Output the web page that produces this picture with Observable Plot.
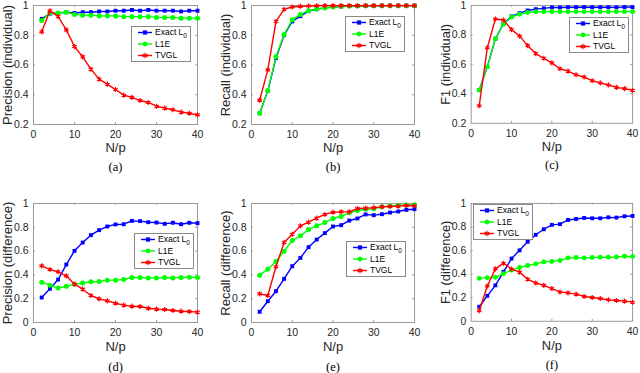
<!DOCTYPE html>
<html><head><meta charset="utf-8">
<script src="https://cdn.jsdelivr.net/npm/d3@7"></script>
<script src="https://cdn.jsdelivr.net/npm/@observablehq/plot@0.6"></script>
<style>
body{margin:0;background:#fff;}
#root{position:relative;width:640px;height:373px;overflow:hidden;background:#fff;}
.panel{position:absolute;}
.legend{position:absolute;}
</style></head><body><div id="root"></div>
<script>
// ---------- data ----------
const xs = [2,4,6,8,10,12,14,16,18,20,22,24,26,28,30,32,34,36,38,40];
const seriesNames = ["Exact L0","L1E","TVGL"];
const xTicks = [0,10,20,30,40];
const yTicksTop = [0.2,0.4,0.6,0.8,1];
const yTicksBottom = [0,0.2,0.4,0.6,0.8,1];
const xLabel = "N/p";
const yLabels = ["Precision (individual)","Recall (individual)","F1 (individual)","Precision (difference)","Recall (difference)","F1 (difference)"];
const captions = ["(a)","(b)","(c)","(d)","(e)","(f)"];

// (a) Precision (individual)
const aExact = [0.91,0.945,0.95,0.955,0.95,0.955,0.955,0.96,0.96,0.965,0.965,0.97,0.965,0.97,0.965,0.965,0.965,0.96,0.965,0.965];
const aL1E   = [0.90,0.95,0.95,0.955,0.94,0.935,0.935,0.93,0.93,0.93,0.925,0.925,0.925,0.925,0.92,0.92,0.92,0.915,0.915,0.915];
const aTVGL  = [0.823,0.964,0.926,0.836,0.724,0.655,0.572,0.505,0.471,0.435,0.397,0.382,0.361,0.348,0.323,0.310,0.299,0.283,0.276,0.265];
// (b) Recall (individual)
const bExact = [0.276,0.426,0.646,0.80,0.893,0.928,0.962,0.975,0.984,0.99,0.993,0.996,0.997,0.998,0.998,0.999,0.999,0.999,0.999,0.999];
const bL1E   = [0.276,0.428,0.655,0.805,0.905,0.94,0.965,0.977,0.983,0.99,0.994,0.996,0.997,0.998,0.998,0.999,0.999,0.999,0.999,0.999];
const bTVGL  = [0.364,0.567,0.892,0.975,0.99,0.995,0.997,0.998,0.999,0.999,0.999,0.999,0.999,0.999,0.999,0.999,0.999,0.999,0.999,0.999];
// (c) F1 (individual)
const cExact = [0.426,0.583,0.774,0.875,0.926,0.948,0.966,0.975,0.98,0.987,0.986,0.988,0.988,0.989,0.988,0.988,0.988,0.987,0.989,0.989];
const cL1E   = [0.425,0.583,0.774,0.872,0.922,0.94,0.952,0.957,0.958,0.958,0.958,0.958,0.958,0.958,0.958,0.958,0.958,0.958,0.958,0.958];
const cTVGL  = [0.319,0.713,0.908,0.901,0.836,0.792,0.727,0.673,0.641,0.610,0.570,0.554,0.529,0.514,0.489,0.474,0.460,0.444,0.435,0.424];
// (d) Precision (difference)
const dExact = [0.21,0.283,0.361,0.487,0.602,0.672,0.734,0.776,0.807,0.824,0.826,0.854,0.852,0.843,0.84,0.829,0.838,0.826,0.838,0.835];
const dL1E   = [0.339,0.314,0.289,0.305,0.322,0.331,0.342,0.345,0.356,0.356,0.361,0.378,0.378,0.375,0.375,0.378,0.375,0.378,0.381,0.378];
const dTVGL  = [0.476,0.445,0.426,0.392,0.322,0.28,0.227,0.199,0.182,0.162,0.146,0.137,0.134,0.12,0.112,0.109,0.101,0.095,0.092,0.087];
// (e) Recall (difference)
const eExact = [0.09,0.179,0.263,0.367,0.473,0.543,0.633,0.697,0.751,0.807,0.818,0.857,0.874,0.908,0.902,0.910,0.924,0.933,0.947,0.952];
const eL1E   = [0.398,0.448,0.513,0.599,0.689,0.728,0.781,0.812,0.840,0.874,0.891,0.922,0.941,0.952,0.955,0.972,0.980,0.986,0.988,0.99];
const eTVGL  = [0.241,0.227,0.468,0.672,0.742,0.812,0.843,0.877,0.908,0.927,0.930,0.930,0.958,0.961,0.964,0.972,0.975,0.978,0.983,0.980];
// (f) F1 (difference)
const fExact = [0.123,0.216,0.305,0.42,0.532,0.602,0.675,0.734,0.781,0.818,0.824,0.86,0.868,0.877,0.874,0.874,0.882,0.88,0.891,0.894];
const fL1E   = [0.364,0.37,0.373,0.403,0.434,0.457,0.473,0.487,0.504,0.507,0.515,0.538,0.541,0.538,0.541,0.543,0.543,0.546,0.552,0.549];
const fTVGL  = [0.09,0.30,0.445,0.493,0.443,0.417,0.356,0.325,0.305,0.277,0.249,0.241,0.23,0.21,0.202,0.193,0.182,0.176,0.171,0.162];

// ---------- style / layout ----------
const colors = ["#0000ff","#00ff00","#ff0000"];
const symbols = ["square","circle","asterisk"];
const axisGray = "#9a9a9a";
const textColor = "#262626";

const panels = [
  {series:[aExact,aL1E,aTVGL], yTicks:yTicksTop, yDomain:[0.2,1], left:33, top:5, pw:164, leg:[131,26], xl:23.5, cap:42.5},
  {series:[bExact,bL1E,bTVGL], yTicks:yTicksTop, yDomain:[0.2,1], left:251, top:5, pw:163, leg:[345,16], xl:23.5, cap:42.5},
  {series:[cExact,cL1E,cTVGL], yTicks:yTicksTop, yDomain:[0.2,1], left:471, top:5, pw:163, leg:[569,17], xl:23.5, cap:42.5},
  {series:[dExact,dL1E,dTVGL], yTicks:yTicksBottom, yDomain:[0,1], left:33, top:203, pw:164, leg:[134,233], xl:24.5, cap:44.5},
  {series:[eExact,eL1E,eTVGL], yTicks:yTicksBottom, yDomain:[0,1], left:251, top:203, pw:163, leg:[346,241], xl:24.5, cap:44.5},
  {series:[fExact,fL1E,fTVGL], yTicks:yTicksBottom, yDomain:[0,1], left:471, top:203, pw:163, leg:[473,204], xl:24.5, cap:44.5}
];

const root = document.getElementById("root");
const PH = 119, ML = 33, MR = 8, MT = 5, MB = 55, TICK = 2;

panels.forEach((p, k) => {
  const rows = [];
  p.series.forEach((vals, i) => vals.forEach((v, j) => rows.push({x: xs[j], y: v, s: seriesNames[i]})));
  const marks = [
    Plot.frame({stroke: axisGray, strokeWidth: 1}),
    Plot.tickX(xTicks.slice(1,-1), {x: d => d, insetTop: PH - TICK, stroke: axisGray}),
    Plot.tickX(xTicks.slice(1,-1), {x: d => d, insetBottom: PH - TICK, stroke: axisGray}),
    Plot.tickY(p.yTicks.slice(1,-1), {y: d => d, insetRight: p.pw - TICK, stroke: axisGray}),
    Plot.tickY(p.yTicks.slice(1,-1), {y: d => d, insetLeft: p.pw - TICK, stroke: axisGray}),
    Plot.axisX(xTicks, {tickSize: 0, tickPadding: 6.5, label: null, fontSize: 10.5, fill: textColor}),
    Plot.axisY(p.yTicks, {tickSize: 0, tickPadding: 5, label: null, tickFormat: "~g", fontSize: 10.5, fill: textColor})
  ];
  seriesNames.forEach((name, i) => {
    const d = rows.filter(r => r.s === name);
    marks.push(Plot.line(d, {x: "x", y: "y", stroke: colors[i], strokeWidth: 1.4}));
    if (symbols[i] === "asterisk")
      marks.push(Plot.dot(d, {x: "x", y: "y", symbol: "asterisk", stroke: colors[i], strokeWidth: 1.2, r: 2.4}));
    else
      marks.push(Plot.dot(d, {x: "x", y: "y", symbol: symbols[i], fill: colors[i], stroke: "none", r: symbols[i] === "square" ? 2.2 : 2.5}));
  });
  marks.push(Plot.text([xLabel], {text: d => d, frameAnchor: "bottom", textAnchor: "middle", lineAnchor: "middle", dy: p.xl, fontSize: 13, fill: textColor}));
  marks.push(Plot.text([yLabels[k]], {text: d => d, frameAnchor: "left", textAnchor: "middle", lineAnchor: "middle", rotate: -90, dx: -25.5, fontSize: 13, fill: textColor}));
  marks.push(Plot.text([captions[k]], {text: d => d, frameAnchor: "bottom", textAnchor: "middle", lineAnchor: "middle", dy: p.cap, fontSize: 12.5, fill: "#000", fontFamily: "'Liberation Serif','Times New Roman',serif"}));

  const chart = Plot.plot({
    width: ML + p.pw + MR, height: MT + PH + MB,
    marginLeft: ML, marginRight: MR, marginTop: MT, marginBottom: MB,
    x: {domain: [0, 40]},
    y: {domain: p.yDomain},
    style: {fontFamily: "'Liberation Sans', Arial, Helvetica, sans-serif", background: "transparent", overflow: "visible"},
    marks
  });
  const div = document.createElement("div");
  div.className = "panel";
  div.style.left = (p.left - ML) + "px";
  div.style.top = (p.top - MT) + "px";
  div.appendChild(chart);
  root.appendChild(div);

  // legend
  const lw = 60, lh = 36;
  const leg = document.createElement("div");
  leg.className = "legend";
  leg.style.left = p.leg[0] + "px";
  leg.style.top = p.leg[1] + "px";
  root.appendChild(leg);
  const svg = d3.select(leg).append("svg").attr("width", lw).attr("height", lh).style("display", "block");
  svg.append("rect").attr("x", 0.5).attr("y", 0.5).attr("width", lw - 1).attr("height", lh - 1)
    .attr("fill", "#fff").attr("stroke", "#8a8a8a").attr("stroke-width", 1);
  const rowY = [6.5, 18, 29.5];
  seriesNames.forEach((name, i) => {
    const g = svg.append("g").attr("transform", `translate(0,${rowY[i]})`);
    g.append("line").attr("x1", 7).attr("x2", 21).attr("y1", 0).attr("y2", 0).attr("stroke", colors[i]).attr("stroke-width", 1.4);
    const sym = d3.symbol().type(i === 0 ? d3.symbolSquare : i === 1 ? d3.symbolCircle : d3.symbolAsterisk).size(i === 2 ? 22 : 18);
    g.append("path").attr("d", sym()).attr("transform", "translate(14,0)")
      .attr("fill", i === 2 ? "none" : colors[i]).attr("stroke", i === 2 ? colors[i] : "none").attr("stroke-width", 1.1);
    const t = g.append("text").attr("x", 24).attr("y", 0).attr("dy", "0.35em")
      .attr("font-family", "'Liberation Sans', Arial, sans-serif").attr("font-size", 8.5).attr("fill", "#000");
    if (name === "Exact L0") {
      t.append("tspan").text("Exact L");
      t.append("tspan").text("0").attr("font-size", 6.5).attr("dy", "0.35em");
    } else t.text(name);
  });
});
</script></body></html>
